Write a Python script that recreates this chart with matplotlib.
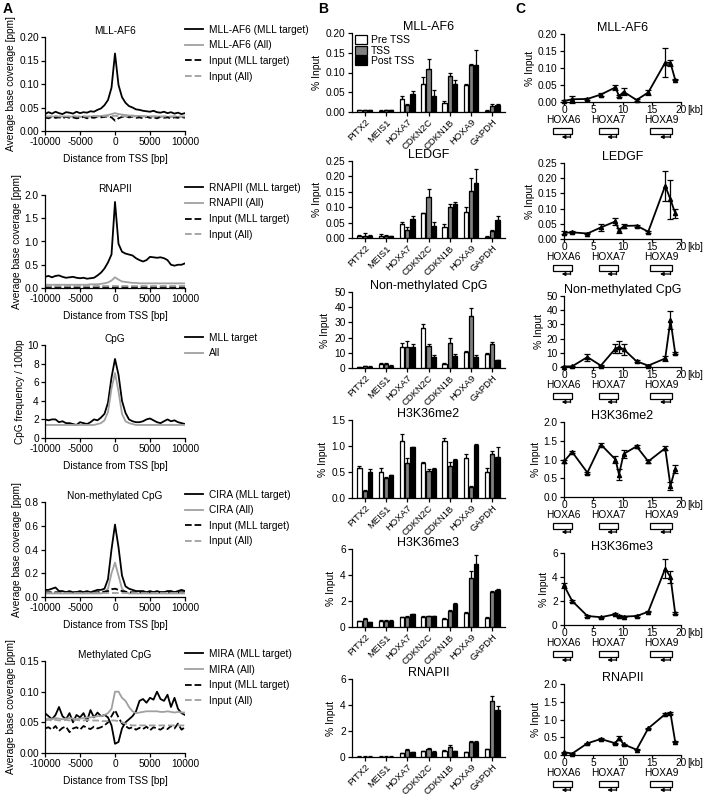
import matplotlib
matplotlib.use('Agg')
from matplotlib import pyplot as plt
from matplotlib import rcParams
from matplotlib.patches import Patch, Rectangle
from matplotlib.transforms import blended_transform_factory
import numpy as np

rcParams['font.family'] = ['Liberation Sans', 'DejaVu Sans']
rcParams['font.size'] = 7
rcParams['axes.unicode_minus'] = False

# ---------------- column A: TSS profiles ----------------
dist = np.arange(-10000, 10001, 500)

a1_target = [0.036, 0.040, 0.037, 0.041, 0.038, 0.036, 0.040, 0.039, 0.037, 0.041,
             0.038, 0.040, 0.039, 0.042, 0.041, 0.045, 0.048, 0.055, 0.066, 0.092,
             0.165,
             0.098, 0.072, 0.060, 0.053, 0.050, 0.046, 0.045, 0.043, 0.042, 0.041,
             0.043, 0.040, 0.039, 0.041, 0.038, 0.040, 0.037, 0.039, 0.036, 0.038]
a1_all = [0.030, 0.030, 0.031, 0.030, 0.030, 0.031, 0.030, 0.030, 0.031, 0.030,
          0.030, 0.031, 0.030, 0.031, 0.031, 0.032, 0.032, 0.033, 0.034, 0.036,
          0.038,
          0.036, 0.035, 0.034, 0.033, 0.033, 0.032, 0.032, 0.032, 0.031, 0.031,
          0.031, 0.031, 0.030, 0.031, 0.030, 0.030, 0.031, 0.030, 0.030, 0.030]
a1_in_target = [0.029, 0.027, 0.030, 0.028, 0.029, 0.027, 0.030, 0.028, 0.029, 0.027,
                0.028, 0.030, 0.027, 0.029, 0.028, 0.030, 0.029, 0.030, 0.031, 0.029,
                0.022,
                0.027, 0.030, 0.031, 0.029, 0.030, 0.028, 0.029, 0.027, 0.030, 0.028,
                0.029, 0.027, 0.030, 0.028, 0.029, 0.027, 0.029, 0.028, 0.030, 0.028]
a1_in_all = [0.031, 0.031, 0.031, 0.032, 0.031, 0.031, 0.031, 0.031, 0.032, 0.031,
             0.031, 0.031, 0.031, 0.031, 0.032, 0.031, 0.031, 0.032, 0.032, 0.032,
             0.032,
             0.032, 0.032, 0.031, 0.031, 0.031, 0.031, 0.032, 0.031, 0.031, 0.031,
             0.031, 0.031, 0.031, 0.031, 0.031, 0.031, 0.031, 0.031, 0.031, 0.031]

a2_target = [0.24, 0.26, 0.23, 0.26, 0.27, 0.24, 0.22, 0.23, 0.24, 0.22,
             0.21, 0.22, 0.20, 0.21, 0.22, 0.27, 0.33, 0.42, 0.55, 0.72,
             1.85,
             0.95, 0.78, 0.74, 0.72, 0.70, 0.64, 0.60, 0.57, 0.60, 0.67,
             0.66, 0.65, 0.66, 0.64, 0.60, 0.50, 0.48, 0.50, 0.50, 0.53]
a2_all = [0.07, 0.07, 0.07, 0.07, 0.07, 0.07, 0.07, 0.07, 0.07, 0.07,
          0.07, 0.07, 0.07, 0.08, 0.08, 0.08, 0.09, 0.10, 0.12, 0.16,
          0.23,
          0.18, 0.14, 0.13, 0.12, 0.11, 0.11, 0.10, 0.10, 0.10, 0.10,
          0.10, 0.10, 0.10, 0.10, 0.10, 0.10, 0.10, 0.10, 0.10, 0.10]
a2_in_target = [0.03, 0.03, 0.03, 0.03, 0.03, 0.03, 0.03, 0.03, 0.03, 0.03,
                0.03, 0.03, 0.03, 0.03, 0.03, 0.03, 0.03, 0.03, 0.03, 0.03,
                0.03,
                0.03, 0.03, 0.03, 0.03, 0.03, 0.03, 0.03, 0.03, 0.03, 0.03,
                0.03, 0.03, 0.03, 0.03, 0.03, 0.03, 0.03, 0.03, 0.03, 0.03]
a2_in_all = [0.045, 0.045, 0.045, 0.045, 0.045, 0.045, 0.045, 0.045, 0.045, 0.045,
             0.045, 0.045, 0.045, 0.045, 0.045, 0.045, 0.045, 0.045, 0.045, 0.045,
             0.045,
             0.045, 0.045, 0.045, 0.045, 0.045, 0.045, 0.045, 0.045, 0.045, 0.045,
             0.045, 0.045, 0.045, 0.045, 0.045, 0.045, 0.045, 0.045, 0.045, 0.045]

a3_target = [2.0, 1.9, 2.0, 2.0, 1.7, 1.8, 1.6, 1.6, 1.5, 1.4,
             1.7, 1.6, 1.5, 1.7, 2.0, 1.9, 2.2, 2.6, 3.8, 6.5,
             8.5,
             6.8, 4.0, 2.7, 2.0, 1.8, 1.7, 1.7, 1.8, 2.0, 2.1,
             1.9, 1.7, 1.6, 1.8, 2.0, 1.8, 1.9, 1.7, 1.6, 1.5]
a3_all = [1.4, 1.4, 1.4, 1.4, 1.4, 1.4, 1.4, 1.4, 1.4, 1.4,
          1.4, 1.4, 1.4, 1.4, 1.4, 1.5, 1.6, 1.9, 2.8, 5.3,
          7.0,
          5.0, 2.6, 1.8, 1.6, 1.5, 1.4, 1.4, 1.4, 1.4, 1.4,
          1.4, 1.4, 1.4, 1.4, 1.4, 1.4, 1.4, 1.4, 1.4, 1.4]

a4_target = [0.06, 0.06, 0.07, 0.08, 0.05, 0.05, 0.04, 0.05, 0.04, 0.04,
             0.05, 0.04, 0.05, 0.04, 0.05, 0.06, 0.06, 0.07, 0.15, 0.40,
             0.61,
             0.42, 0.18, 0.09, 0.07, 0.06, 0.05, 0.05, 0.05, 0.04, 0.05,
             0.04, 0.05, 0.04, 0.04, 0.05, 0.05, 0.04, 0.05, 0.06, 0.05]
a4_all = [0.03, 0.03, 0.03, 0.03, 0.03, 0.03, 0.03, 0.03, 0.03, 0.03,
          0.03, 0.03, 0.03, 0.03, 0.03, 0.03, 0.03, 0.04, 0.07, 0.20,
          0.29,
          0.18, 0.07, 0.04, 0.03, 0.03, 0.03, 0.03, 0.03, 0.03, 0.03,
          0.03, 0.03, 0.03, 0.03, 0.03, 0.03, 0.03, 0.03, 0.03, 0.03]
a4_in_target = [0.04, 0.04, 0.04, 0.04, 0.04, 0.04, 0.04, 0.04, 0.04, 0.04,
                0.04, 0.04, 0.04, 0.04, 0.04, 0.04, 0.045, 0.045, 0.05, 0.065,
                0.07,
                0.06, 0.05, 0.045, 0.04, 0.04, 0.04, 0.04, 0.04, 0.04, 0.04,
                0.04, 0.04, 0.04, 0.04, 0.04, 0.04, 0.04, 0.04, 0.04, 0.04]
a4_in_all = [0.035, 0.035, 0.035, 0.035, 0.035, 0.035, 0.035, 0.035, 0.035, 0.035,
             0.035, 0.035, 0.035, 0.035, 0.035, 0.035, 0.035, 0.035, 0.035, 0.035,
             0.035,
             0.035, 0.035, 0.035, 0.035, 0.035, 0.035, 0.035, 0.035, 0.035, 0.035,
             0.035, 0.035, 0.035, 0.035, 0.035, 0.035, 0.035, 0.035, 0.035, 0.035]

a5_target = [0.065, 0.060, 0.055, 0.062, 0.075, 0.060, 0.055, 0.065, 0.050, 0.062,
             0.058, 0.065, 0.052, 0.070, 0.058, 0.066, 0.060, 0.062, 0.058, 0.045,
             0.015,
             0.018, 0.040, 0.050, 0.055, 0.060, 0.068, 0.085, 0.088, 0.082, 0.090,
             0.087, 0.100, 0.088, 0.085, 0.095, 0.075, 0.090, 0.072, 0.065, 0.062]
a5_all = [0.055, 0.056, 0.055, 0.057, 0.056, 0.055, 0.056, 0.057, 0.056, 0.055,
          0.056, 0.057, 0.058, 0.058, 0.059, 0.060, 0.060, 0.062, 0.065, 0.072,
          0.100,
          0.100, 0.090, 0.085, 0.075, 0.068, 0.065, 0.066, 0.067, 0.068, 0.068,
          0.068, 0.068, 0.067, 0.067, 0.068, 0.067, 0.066, 0.067, 0.066, 0.066]
a5_in_target = [0.040, 0.042, 0.038, 0.044, 0.036, 0.041, 0.043, 0.034, 0.040, 0.042,
                0.038, 0.044, 0.041, 0.039, 0.043, 0.040, 0.042, 0.045, 0.050, 0.060,
                0.070,
                0.058, 0.048, 0.044, 0.040, 0.042, 0.038, 0.041, 0.039, 0.043, 0.037,
                0.042, 0.040, 0.038, 0.042, 0.039, 0.044, 0.040, 0.048, 0.038, 0.042]
a5_in_all = [0.053, 0.054, 0.053, 0.054, 0.053, 0.053, 0.054, 0.053, 0.053, 0.054,
             0.053, 0.053, 0.054, 0.053, 0.053, 0.053, 0.052, 0.052, 0.052, 0.053,
             0.053,
             0.052, 0.050, 0.048, 0.046, 0.045, 0.045, 0.045, 0.045, 0.045, 0.045,
             0.045, 0.045, 0.045, 0.045, 0.045, 0.045, 0.045, 0.045, 0.045, 0.045]

# ---------------- column B: ChIP-qPCR bars ----------------
b_genes = ['PITX2', 'MEIS1', 'HOXA7', 'CDKN2C', 'CDKN1B', 'HOXA9', 'GAPDH']
b_series = ['Pre TSS', 'TSS', 'Post TSS']

b1_vals = [[0.004, 0.003, 0.032, 0.072, 0.022, 0.068, 0.003],
           [0.005, 0.004, 0.017, 0.110, 0.090, 0.118, 0.016],
           [0.004, 0.005, 0.045, 0.040, 0.072, 0.118, 0.017]]
b1_err = [[0.001, 0.001, 0.009, 0.016, 0.005, 0.002, 0.001],
          [0.001, 0.001, 0.002, 0.025, 0.008, 0.004, 0.003],
          [0.001, 0.001, 0.008, 0.015, 0.008, 0.040, 0.002]]
b2_vals = [[0.006, 0.007, 0.045, 0.080, 0.036, 0.085, 0.004],
           [0.006, 0.005, 0.027, 0.133, 0.102, 0.153, 0.022],
           [0.008, 0.005, 0.062, 0.038, 0.112, 0.180, 0.058]]
b2_err = [[0.003, 0.005, 0.006, 0.002, 0.008, 0.017, 0.001],
          [0.010, 0.004, 0.008, 0.025, 0.008, 0.042, 0.003],
          [0.002, 0.003, 0.010, 0.014, 0.005, 0.045, 0.013]]
b3_vals = [[0.5, 2.5, 13.5, 26.5, 2.5, 10.5, 9.5],
           [1.0, 2.5, 13.5, 14.5, 16.5, 34.0, 16.0],
           [0.7, 1.2, 13.5, 7.5, 8.0, 7.5, 5.0]]
b3_err = [[0.3, 0.5, 3.0, 2.5, 0.5, 0.8, 0.3],
          [0.5, 0.8, 4.5, 1.0, 3.5, 5.5, 1.0],
          [0.3, 0.5, 2.5, 1.0, 1.5, 1.0, 0.5]]
b4_vals = [[0.57, 0.50, 1.10, 0.68, 1.10, 0.76, 0.50],
           [0.14, 0.38, 0.68, 0.52, 0.62, 0.22, 0.85],
           [0.50, 0.44, 0.98, 0.56, 0.74, 1.02, 0.78]]
b4_err = [[0.05, 0.07, 0.13, 0.01, 0.05, 0.09, 0.08],
          [0.01, 0.02, 0.08, 0.03, 0.07, 0.01, 0.05],
          [0.05, 0.01, 0.01, 0.02, 0.01, 0.02, 0.20]]
b5_vals = [[0.45, 0.50, 0.75, 0.80, 0.65, 1.10, 0.70],
           [0.65, 0.48, 0.78, 0.85, 1.25, 3.80, 2.70],
           [0.38, 0.50, 0.98, 0.82, 1.78, 4.85, 2.85]]
b5_err = [[0.05, 0.03, 0.03, 0.03, 0.05, 0.03, 0.05],
          [0.05, 0.03, 0.05, 0.03, 0.03, 0.50, 0.10],
          [0.03, 0.03, 0.05, 0.03, 0.03, 0.70, 0.10]]
b6_vals = [[0.03, 0.03, 0.30, 0.45, 0.50, 0.38, 0.60],
           [0.03, 0.03, 0.52, 0.60, 0.75, 1.18, 4.30],
           [0.03, 0.03, 0.38, 0.40, 0.45, 1.18, 3.60]]
b6_err = [[0.01, 0.01, 0.03, 0.05, 0.05, 0.03, 0.05],
          [0.01, 0.01, 0.08, 0.08, 0.15, 0.05, 0.40],
          [0.01, 0.01, 0.03, 0.03, 0.03, 0.05, 0.30]]

# ---------------- column C: HOXA locus walk ----------------
c_kb = [0.0, 1.4, 4.0, 6.3, 8.8, 9.4, 10.2, 12.4, 14.4, 17.3, 18.2, 19.0]
c_genes = ['HOXA6', 'HOXA7', 'HOXA9']
c1 = [0.003, 0.008, 0.009, 0.022, 0.043, 0.017, 0.030, 0.006, 0.028, 0.116, 0.115, 0.066]
c1_err = [0.002, 0.010, 0.002, 0.004, 0.008, 0.003, 0.010, 0.004, 0.008, 0.042, 0.008, 0.002]
c2 = [0.020, 0.022, 0.018, 0.038, 0.058, 0.028, 0.043, 0.044, 0.024, 0.175, 0.130, 0.085]
c2_err = [0.005, 0.003, 0.003, 0.012, 0.012, 0.008, 0.006, 0.003, 0.003, 0.050, 0.065, 0.015]
c3 = [0.3, 0.5, 7.0, 1.0, 13.0, 14.0, 12.5, 4.0, 1.0, 6.0, 33.0, 10.0]
c3_err = [0.3, 0.3, 2.5, 0.3, 3.0, 4.0, 4.0, 0.8, 0.3, 1.5, 6.5, 0.5]
c4 = [0.95, 1.20, 0.65, 1.40, 1.00, 0.60, 1.15, 1.35, 0.95, 1.30, 0.30, 0.75]
c4_err = [0.03, 0.03, 0.03, 0.05, 0.10, 0.15, 0.10, 0.05, 0.05, 0.05, 0.10, 0.10]
c5 = [3.30, 2.00, 0.75, 0.65, 0.90, 0.75, 0.70, 0.75, 1.10, 4.70, 4.00, 1.00]
c5_err = [0.20, 0.10, 0.05, 0.05, 0.10, 0.05, 0.05, 0.05, 0.05, 0.80, 0.50, 0.05]
c6 = [0.08, 0.04, 0.33, 0.45, 0.33, 0.48, 0.30, 0.15, 0.75, 1.15, 1.18, 0.38]
c6_err = [0.01, 0.01, 0.02, 0.02, 0.02, 0.05, 0.02, 0.02, 0.02, 0.02, 0.02, 0.02]


W, H = 705, 795
BLACK = '#000000'
GREY = '#a0a0a0'
fig = plt.figure(figsize=(W / 100, H / 100), dpi=100)


def add_ax(left, top, right, bottom):
    return fig.add_axes([left / W, 1 - bottom / H, (right - left) / W, (bottom - top) / H])


def tidy(ax):
    for s in ['top', 'right']:
        ax.spines[s].set_visible(False)
    for s in ['left', 'bottom']:
        ax.spines[s].set_linewidth(0.9)
    ax.tick_params(direction='out', length=3, width=0.9, labelsize=7.3, pad=1.5)


def set_y(ax, ticks, fmt):
    ax.set_ylim(ticks[0], ticks[-1])
    ax.set_yticks(ticks)
    ax.set_yticklabels([fmt.format(t) for t in ticks])


# column A
a_panels = [
    ((37, 131), 'MLL-AF6', [a1_target, a1_all, a1_in_target, a1_in_all],
     ['MLL-AF6 (MLL target)', 'MLL-AF6 (All)', 'Input (MLL target)', 'Input (All)'],
     [0, 0.05, 0.10, 0.15, 0.20], '{:.2f}', 'Average base coverage [ppm]'),
    ((195, 288), 'RNAPII', [a2_target, a2_all, a2_in_target, a2_in_all],
     ['RNAPII (MLL target)', 'RNAPII (All)', 'Input (MLL target)', 'Input (All)'],
     [0, 0.5, 1.0, 1.5, 2.0], '{:.1f}', 'Average base coverage [ppm]'),
    ((345, 438), 'CpG', [a3_target, a3_all],
     ['MLL target', 'All'],
     [0, 2, 4, 6, 8, 10], '{:.0f}', 'CpG frequency / 100bp'),
    ((502, 597), 'Non-methylated CpG', [a4_target, a4_all, a4_in_target, a4_in_all],
     ['CIRA (MLL target)', 'CIRA (All)', 'Input (MLL target)', 'Input (All)'],
     [0, 0.2, 0.4, 0.6, 0.8], '{:.1f}', 'Average base coverage [ppm]'),
    ((661, 753), 'Methylated CpG', [a5_target, a5_all, a5_in_target, a5_in_all],
     ['MIRA (MLL target)', 'MIRA (All)', 'Input (MLL target)', 'Input (All)'],
     [0, 0.05, 0.10, 0.15], '{:.2f}', 'Average base coverage [ppm]'),
]
line_styles = [(BLACK, '-'), (GREY, '-'), (BLACK, '--'), (GREY, '--')]

for (top, bottom), title, series, labels, yticks, fmt, ylabel in a_panels:
    ax = add_ax(45, top, 185, bottom)
    tidy(ax)
    for y, (c, ls), lab in zip(series, line_styles, labels):
        ax.plot(dist, y, color=c, ls=ls, lw=1.3, label=lab)
    ax.set_xlim(-10000, 10000)
    ax.set_xticks([-10000, -5000, 0, 5000, 10000])
    set_y(ax, yticks, fmt)
    ax.set_title(title, fontsize=7.3, pad=2)
    ax.set_xlabel('Distance from TSS [bp]', fontsize=7.3, labelpad=5)
    ax.set_ylabel(ylabel, fontsize=7.3, labelpad=2)
    ax.legend(frameon=False, loc='upper left', bbox_to_anchor=(1.0, 1.13), fontsize=7.3,
              handlelength=1.8, handletextpad=0.6, labelspacing=0.55, borderaxespad=0, borderpad=0)

# column B
b_panels = [
    ((33, 112), 'MLL-AF6', b1_vals, b1_err, [0, 0.05, 0.10, 0.15, 0.20], '{:.2f}'),
    ((161, 238), 'LEDGF', b2_vals, b2_err, [0, 0.05, 0.10, 0.15, 0.20, 0.25], '{:.2f}'),
    ((292, 368), 'Non-methylated CpG', b3_vals, b3_err, [0, 10, 20, 30, 40, 50], '{:.0f}'),
    ((420, 498), 'H3K36me2', b4_vals, b4_err, [0, 0.5, 1.0, 1.5], '{:.1f}'),
    ((549, 627), 'H3K36me3', b5_vals, b5_err, [0, 2, 4, 6], '{:.0f}'),
    ((679, 757), 'RNAPII', b6_vals, b6_err, [0, 2, 4, 6], '{:.0f}'),
]
bar_colors = ['white', '#808080', BLACK]
x = np.arange(len(b_genes))
bw = 0.25

for i, ((top, bottom), title, vals, errs, yticks, fmt) in enumerate(b_panels):
    ax = add_ax(352, top, 505, bottom)
    tidy(ax)
    for k in range(3):
        xs = x + (k - 1) * bw
        ax.bar(xs, vals[k], bw * 0.8, color=bar_colors[k], edgecolor=BLACK, lw=0.9,
               label=b_series[k], zorder=2)
        ax.errorbar(xs, vals[k], yerr=[np.zeros(len(x)), errs[k]], fmt='none',
                    ecolor=BLACK, elinewidth=0.9, capsize=1.6, capthick=0.9, zorder=3)
    ax.set_xlim(-0.6, 6.6)
    ax.set_xticks(x)
    ax.set_xticklabels(b_genes, rotation=45, ha='right', rotation_mode='anchor', fontsize=6.8)
    ax.tick_params(axis='x', pad=1)
    set_y(ax, yticks, fmt)
    ax.set_title(title, fontsize=9, pad=1)
    ax.set_ylabel('% Input', fontsize=7.5, labelpad=3)
    if i == 0:
        handles = [Patch(facecolor=c, edgecolor=BLACK, lw=0.9) for c in bar_colors]
        ax.legend(handles, b_series, frameon=False, loc='upper left', bbox_to_anchor=(0.02, 0.97),
                  fontsize=7.5, handlelength=1.1, handleheight=0.9, handletextpad=0.4,
                  labelspacing=0.05, borderaxespad=0, borderpad=0)

# column C
c_panels = [
    ((34, 102), 'MLL-AF6', c1, c1_err, [0, 0.05, 0.10, 0.15, 0.20], '{:.2f}'),
    ((163, 239), 'LEDGF', c2, c2_err, [0, 0.05, 0.10, 0.15, 0.20, 0.25], '{:.2f}'),
    ((296, 367), 'Non-methylated CpG', c3, c3_err, [0, 10, 20, 30, 40, 50], '{:.0f}'),
    ((422, 497), 'H3K36me2', c4, c4_err, [0, 0.5, 1.0, 1.5, 2.0], '{:.1f}'),
    ((553, 625), 'H3K36me3', c5, c5_err, [0, 2, 4, 6], '{:.0f}'),
    ((684, 755), 'RNAPII', c6, c6_err, [0, 0.5, 1.0, 1.5, 2.0], '{:.1f}'),
]
gene_center = [-0.2, 7.6, 16.6]
gene_width = [3.2, 3.2, 3.7]

for (top, bottom), title, vals, errs, yticks, fmt in c_panels:
    ax = add_ax(564, top, 681, bottom)
    tidy(ax)
    ax.tick_params(axis='x', length=2, pad=0.5)
    ax.errorbar(c_kb, vals, yerr=errs, color=BLACK, lw=1.3, marker='^', ms=3,
                elinewidth=0.9, capsize=2, capthick=0.9, clip_on=False)
    ax.set_xlim(0, 20)
    ax.set_xticks([0, 5, 10, 15, 20])
    set_y(ax, yticks, fmt)
    ax.set_title(title, fontsize=9, pad=1)
    ax.set_ylabel('% Input', fontsize=7.5, labelpad=2)
    ax.annotate('[kb]', xy=(20, 0), xycoords=('data', 'axes fraction'), xytext=(4.5, -2.5),
                textcoords='offset points', va='top', ha='left', fontsize=7)
    tr = blended_transform_factory(ax.transData, fig.transFigure)
    for g, gc, gw in zip(c_genes, gene_center, gene_width):
        ax.text(gc, 1 - (bottom + 18) / H, g, transform=tr, ha='center', va='center',
                fontsize=7.3, clip_on=False)
        yb, yt = 1 - (bottom + 32) / H, 1 - (bottom + 26) / H
        ax.add_patch(Rectangle((gc - gw / 2, yb), gw, yt - yb, transform=tr, facecolor='white',
                               edgecolor=BLACK, lw=0.9, clip_on=False))
        xr = gc + gw / 2 - 0.3
        ya = 1 - (bottom + 35) / H
        ax.plot([xr, xr], [yb, ya], color=BLACK, lw=0.9, transform=tr, clip_on=False)
        ax.annotate('', xy=(gc - 0.2, ya), xytext=(xr, ya), xycoords=tr, textcoords=tr,
                    arrowprops=dict(arrowstyle='-|>', color=BLACK, lw=0.9, mutation_scale=5,
                                    shrinkA=0, shrinkB=0))

for letter, px in [('A', 3), ('B', 318), ('C', 515)]:
    fig.text(px / W, 1 - 9 / H, letter, fontsize=10, weight='bold', va='center', ha='left')

fig.savefig('out.png', dpi=100)
